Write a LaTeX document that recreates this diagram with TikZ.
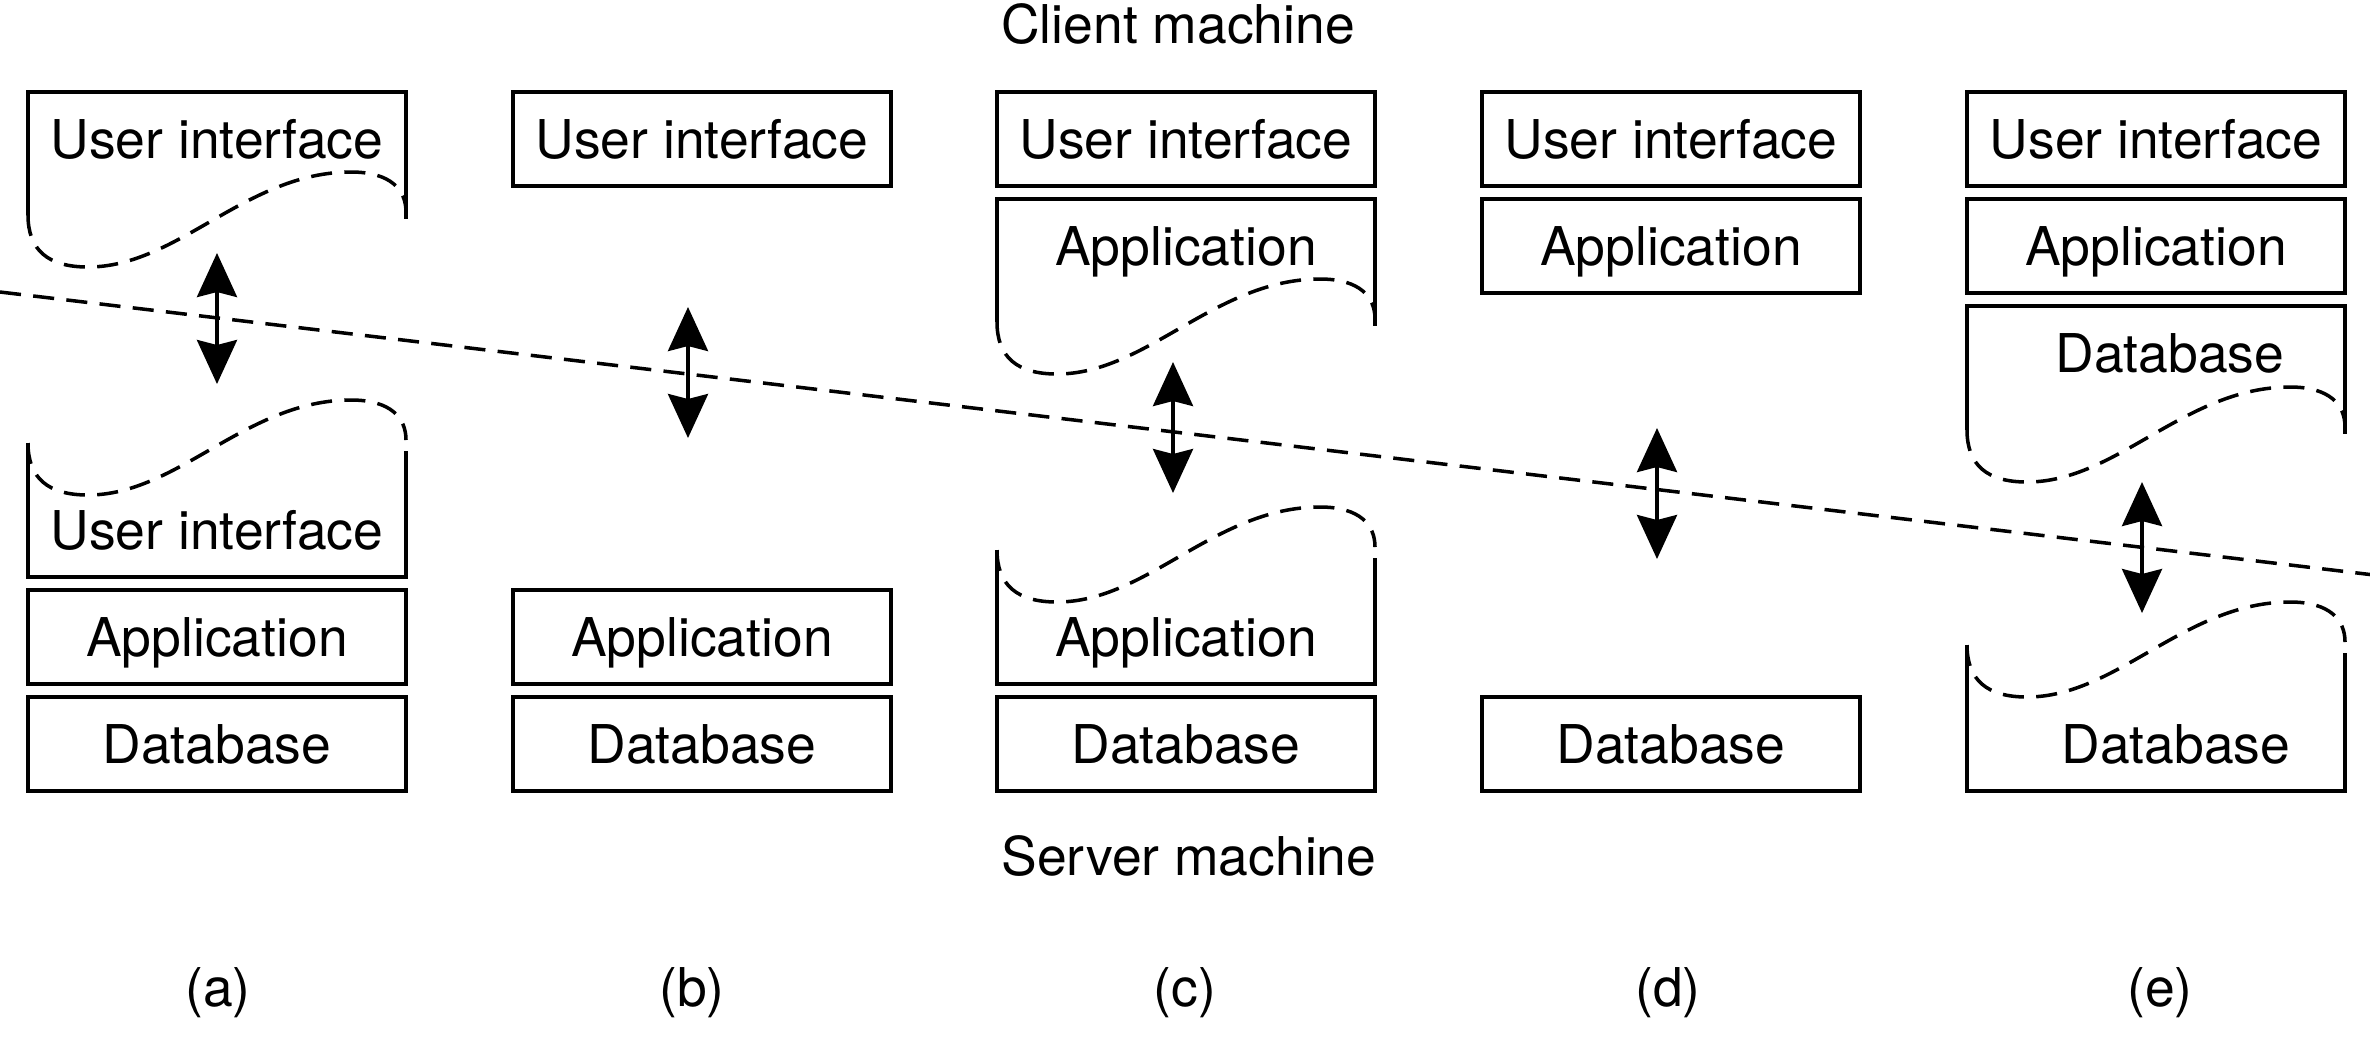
\documentclass[tikz,border=0pt]{standalone}
\usepackage{fontspec}
\setmainfont{TeX Gyre Heros}
\usetikzlibrary{arrows.meta}
% 波浪断口: #1---左边x, #2---断开处y
\newcommand{\wave}[2]{%
  \draw[cut] (#1,#2) .. controls +(0,35) and +(-40,0) .. ++(60,52)
    .. controls +(90,0) and +(-105,0) .. ++(263,-95)
    .. controls +(40,0) and +(0,-22) .. ++(55,40);
}
% 上半截方框(顶边完整, 下边断开)
\newcommand{\uppart}[3]{%
  \pgfmathsetmacro{\rx}{#1+378}
  \draw[boxline] (#1,#3) -- (#1,#2) -- (\rx,#2) -- (\rx,#3+4);
  \wave{#1}{#3}
}
% 下半截方框(底边完整, 上边断开)
\newcommand{\lowpart}[3]{%
  \pgfmathsetmacro{\rx}{#1+378}
  \draw[boxline] (#1,#3) -- (#1,#2) -- (\rx,#2) -- (\rx,#3+8);
  \wave{#1}{#3}
}

\begin{document}
\begin{tikzpicture}[
  x=0.01cm, y=-0.01cm,
  font=\fontsize{15.2pt}{18pt}\selectfont,
  boxline/.style={line width=1.1pt},
  cut/.style={line width=1pt, dash pattern=on 6pt off 3.5pt},
  lbl/.style={inner sep=0pt, text height=10.9pt, text depth=0pt},
  box/.style={lbl, draw, line width=1.1pt, minimum width=3.78cm,
    minimum height=0.94cm},
  link/.style={{Stealth[length=0.44cm, width=0.4cm, inset=0.05cm]}-{Stealth[length=0.44cm, width=0.4cm, inset=0.05cm]},
    line width=1pt},
  ]
  \useasboundingbox (0,0) rectangle (2370,1038);

  % 标题
  \node[anchor=base] (client) at (1178,43) {Client machine};
  \node[anchor=base] (server) at (1189,875) {Server machine};

  % 完整方框
  % \cx,\cy---中心位置, \nm---节点名, \txt---文字
  \foreach \cx/\cy/\nm/\txt in
  {
    702/139/bUI/User interface,
    1186/139/cUI/User interface,
    1671/139/dUI/User interface,
    2156/139/eUI/User interface,
    1671/246/dApp/Application,
    2156/246/eApp/Application,
    217/637/aApp/Application,
    702/637/bApp/Application,
    217/744/aDB/Database,
    702/744/bDB/Database,
    1186/744/cDB/Database,
    1671/744/dDB/Database}
  {
    \node[box] (\nm) at (\cx,\cy) {\txt};
  }

  % 断开的方框
  \uppart{28}{92}{215}
  \node[lbl] (aUIup) at (217,139) {User interface};
  \lowpart{28}{577}{443}
  \node[lbl] (aUIlow) at (217,530) {User interface};
  \uppart{997}{199}{322}
  \node[lbl] (cAppup) at (1186,246) {Application};
  \lowpart{997}{684}{550}
  \node[lbl] (cApplow) at (1186,637) {Application};
  \uppart{1967}{306}{430}
  \node[lbl] (eDBup) at (2170,353) {Database};
  \lowpart{1967}{791}{645}
  \node[lbl] (eDBlow) at (2176,744) {Database};

  % 分界虚线
  \coordinate (sepL) at (0,292);
  \coordinate (sepR) at (2370,574.5);
  \draw[cut] (sepL) -- (sepR);

  % 双向箭头
  % \ax---箭头x位置, \ay---上端y位置, \nm---编号
  \foreach \ax/\ay/\nm in {217/253/a, 688/307/b, 1173/362/c, 1657/428/d, 2142/482/e}
  {
    \coordinate (\nm top) at (\ax,\ay);
    \coordinate (\nm bot) at (\ax,\ay+131);
    \draw[link] (\nm top) -- (\nm bot);
  }

  % 子图编号
  \foreach \lx/\nm in {218/a, 692/b, 1185/c, 1668/d, 2160/e}
  {
    \node[anchor=base] (lab\nm) at (\lx,1006) {(\nm)};
  }
\end{tikzpicture}
\end{document}
